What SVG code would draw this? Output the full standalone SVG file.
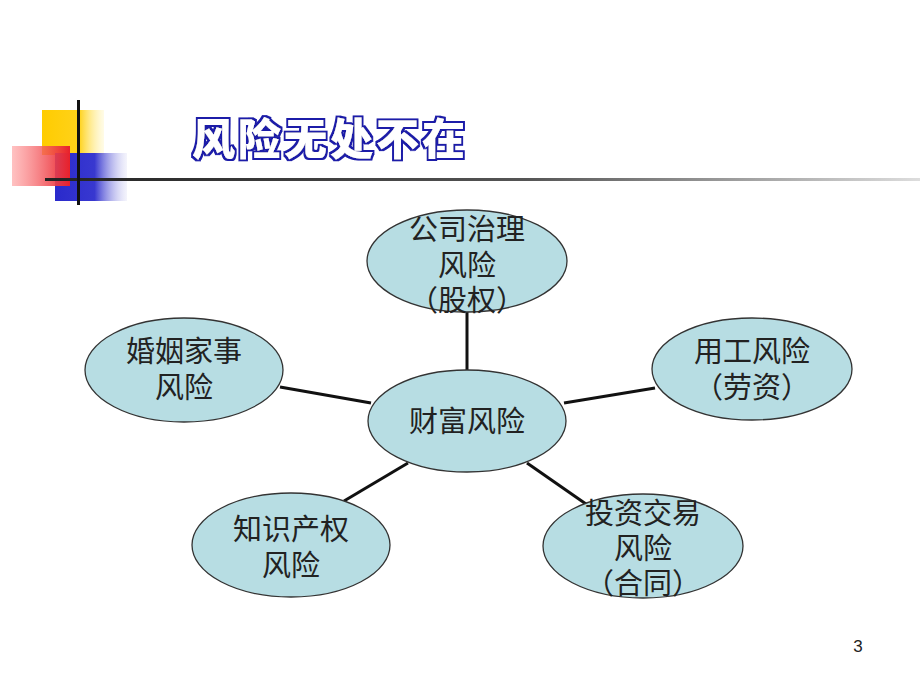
<svg xmlns="http://www.w3.org/2000/svg" width="920" height="690" viewBox="0 0 920 690">
<defs>
<linearGradient id="gy" x1="0" y1="0" x2="1" y2="0"><stop offset="0" stop-color="#FFCC00"/><stop offset="0.6" stop-color="#FFD21A"/><stop offset="1" stop-color="#FFF3B0" stop-opacity="0.3"/></linearGradient>
<linearGradient id="gr" x1="0" y1="0" x2="1" y2="0"><stop offset="0" stop-color="#FF9999" stop-opacity="0.6"/><stop offset="1" stop-color="#E8202A"/></linearGradient>
<linearGradient id="gb" x1="0" y1="0" x2="1" y2="0"><stop offset="0" stop-color="#2A2ACC"/><stop offset="0.55" stop-color="#3838D0"/><stop offset="1" stop-color="#C8C8F0" stop-opacity="0.2"/></linearGradient>
<linearGradient id="gl" x1="0" y1="0" x2="1" y2="0"><stop offset="0" stop-color="#222"/><stop offset="0.55" stop-color="#555"/><stop offset="1" stop-color="#ddd"/></linearGradient>
<filter id="outl" x="-5%" y="-25%" width="110%" height="150%">
<feMorphology in="SourceAlpha" operator="dilate" radius="2.2" result="big"/>
<feFlood flood-color="#1A1AA8"/><feComposite in2="big" operator="in" result="blue"/>
<feMerge><feMergeNode in="blue"/><feMergeNode in="SourceGraphic"/></feMerge>
</filter>
</defs>
<style>
.node ellipse{fill:#B7DDE3;stroke:#333;stroke-width:1.3}
.node text{font-family:"Liberation Serif","Noto Sans CJK SC",serif;font-size:29px;fill:#222;text-anchor:middle}
#connectors line{stroke:#111;stroke-width:3}
.title{font-family:"Noto Sans CJK SC",sans-serif;font-size:43px;font-weight:900;letter-spacing:3px;fill:#fff;filter:url(#outl)}
</style>
<rect width="920" height="690" fill="#fff"/>
<g id="decoration">
<rect x="42" y="110" width="62" height="45" fill="url(#gy)"/>
<rect x="55" y="153" width="72" height="48" fill="url(#gb)"/>
<rect x="12" y="146" width="58" height="40" fill="url(#gr)"/>
<rect x="45" y="178" width="875" height="3" fill="url(#gl)"/>
<rect x="77" y="100" width="3" height="105" fill="#111"/>
</g>
<text class="title" x="192" y="155">风险无处不在</text>
<g id="connectors">
<line x1="467" y1="312" x2="467" y2="370"/>
<line x1="280" y1="387" x2="371" y2="403"/>
<line x1="564" y1="403" x2="655" y2="388"/>
<line x1="408" y1="463" x2="344" y2="501"/>
<line x1="527" y1="463" x2="586" y2="504"/>
</g>
<g id="n-top" class="node"><ellipse cx="467" cy="261" rx="100" ry="51"/><text x="467" y="240">公司治理</text><text x="467" y="276">风险</text><text x="467" y="311">（股权）</text></g>
<g id="n-center" class="node"><ellipse cx="467" cy="421" rx="99" ry="51"/><text x="467" y="432">财富风险</text></g>
<g id="n-left" class="node"><ellipse cx="184" cy="370" rx="99" ry="52"/><text x="184" y="362">婚姻家事</text><text x="184" y="398">风险</text></g>
<g id="n-right" class="node"><ellipse cx="752" cy="369" rx="100" ry="51"/><text x="752" y="362">用工风险</text><text x="752" y="398">（劳资）</text></g>
<g id="n-bl" class="node"><ellipse cx="291" cy="545" rx="99" ry="52"/><text x="291" y="540">知识产权</text><text x="291" y="576">风险</text></g>
<g id="n-br" class="node"><ellipse cx="643" cy="546" rx="100" ry="52"/><text x="643" y="524">投资交易</text><text x="643" y="559">风险</text><text x="643" y="594">（合同）</text></g>
<text x="858" y="652" font-family="Liberation Sans,sans-serif" font-size="17" fill="#222" text-anchor="middle">3</text>
</svg>
